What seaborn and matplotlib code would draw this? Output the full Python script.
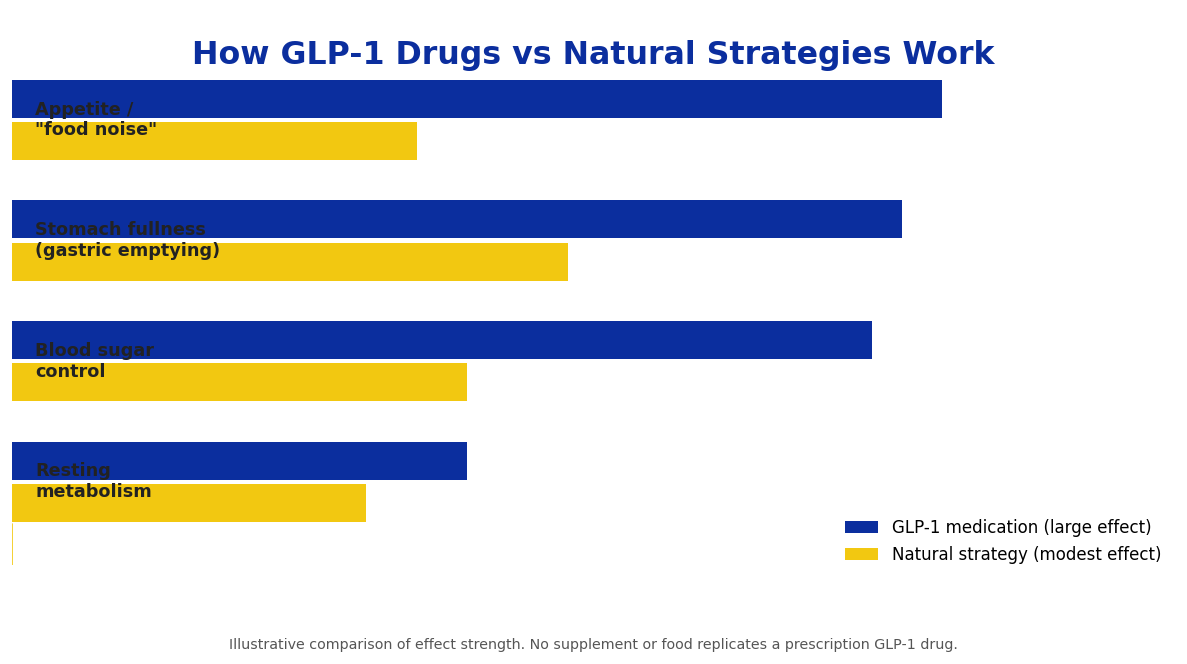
import pandas as pd
import matplotlib.pyplot as plt
import seaborn as sns

# data
categories = ['Appetite /\n"food noise"', 'Stomach fullness\n(gastric emptying)',
              'Blood sugar\ncontrol', 'Resting\nmetabolism']
glp1_values = [92, 88, 85, 45]
natural_values = [40, 55, 45, 35]
series_names = ['GLP-1 medication (large effect)', 'Natural strategy (modest effect)']

blue = '#0B2E9E'
yellow = '#F2C811'

df = pd.DataFrame({
    'Mechanism': categories * 2,
    'Effect': glp1_values + natural_values,
    'Series': [series_names[0]] * len(categories) + [series_names[1]] * len(categories),
})

sns.set_style('white')
plt.rcParams['font.family'] = ['DejaVu Sans']

fig = plt.figure(figsize=(11.87, 6.64), dpi=100)
ax = fig.add_axes([0.0101, 0.149, 0.9798, 0.734])

sns.barplot(data=df, y='Mechanism', x='Effect', hue='Series', orient='h',
            palette=[blue, yellow], saturation=1, width=0.7, gap=0.1,
            linewidth=0, ax=ax)

ax.set_xlim(0, 115)
ax.set_ylim(3.69, -0.35)

# labels inside the bars
for i, cat in enumerate(categories):
    ax.text(2.3, i, cat, ha='left', va='center', fontsize=12.7,
            fontweight='bold', color='#222222')

# thin line left below the last bar
ax.axvline(0, ymin=0, ymax=(3.69 - 3.35) / 4.04, color=yellow, linewidth=1.2)

ax.set_xticks([])
ax.set_yticks([])
ax.set_xlabel('')
ax.set_ylabel('')
for s in ax.spines.values():
    s.set_visible(False)

ax.legend(loc='lower right', frameon=False, fontsize=12, labelspacing=0.55,
          bbox_to_anchor=(0.998, -0.022), borderaxespad=0.3, labelcolor='black')

fig.text(0.5, 0.917, 'How GLP-1 Drugs vs Natural Strategies Work', ha='center',
         va='center', fontsize=22.8, fontweight='bold', color=blue)
fig.text(0.5, 0.028, 'Illustrative comparison of effect strength. No supplement or food '
         'replicates a prescription GLP-1 drug.', ha='center', va='center',
         fontsize=10.25, color='#555555')

plt.savefig('out.png', dpi=100)
